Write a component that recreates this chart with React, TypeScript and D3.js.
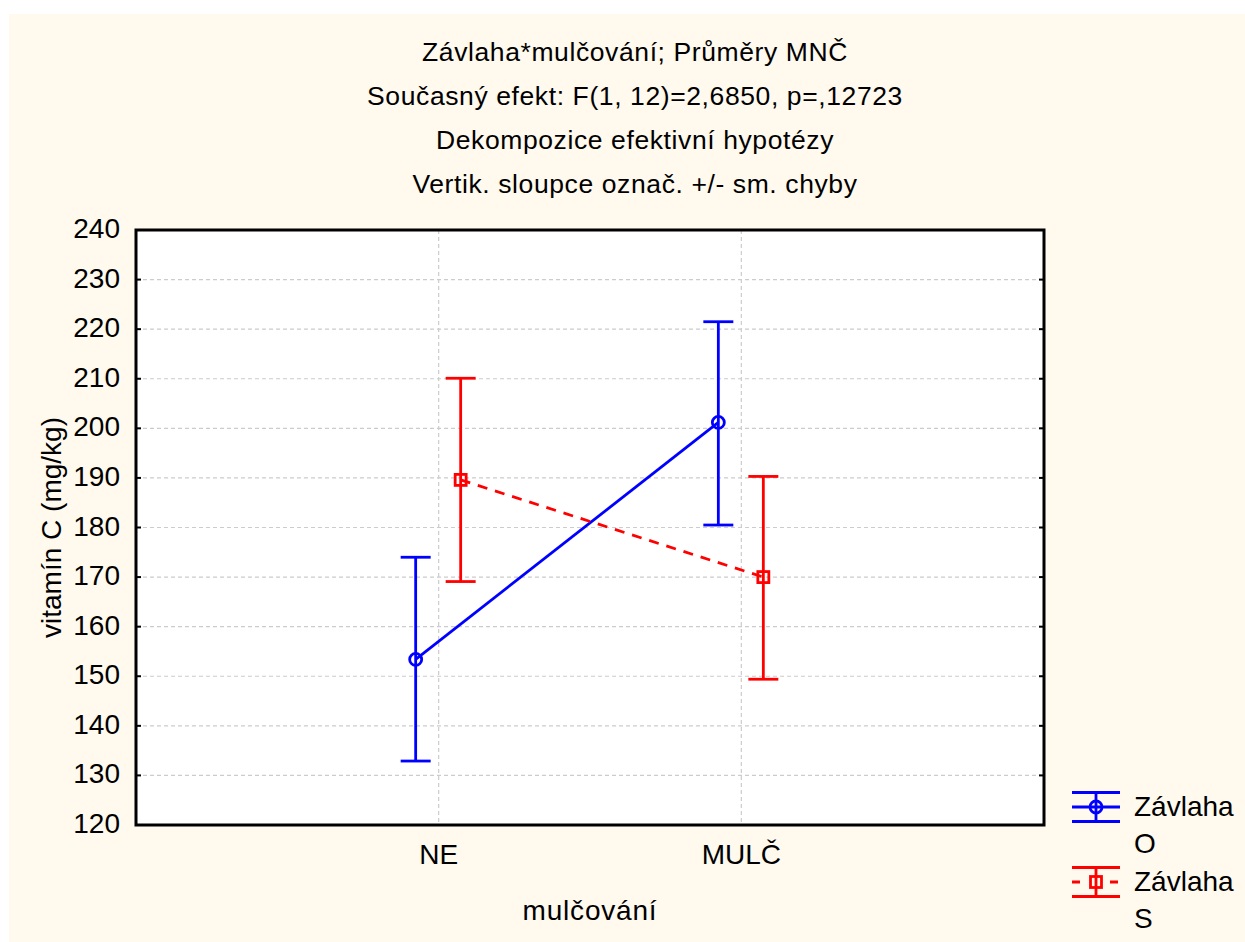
import React from "react";
import * as d3 from "d3";

const categories = ["NE", "MULČ"];
const yTicks = [120, 130, 140, 150, 160, 170, 180, 190, 200, 210, 220, 230, 240];
const titleLines = [
  "Závlaha*mulčování; Průměry MNČ",
  "Současný efekt: F(1, 12)=2,6850, p=,12723",
  "Dekompozice efektivní hypotézy",
  "Vertik. sloupce označ. +/- sm. chyby",
];
const seriesNames = ["Závlaha O", "Závlaha S"];
const meansO = [153.4, 201.2];
const lowO = [132.9, 180.5];
const highO = [174.0, 221.5];
const meansS = [189.6, 170.0];
const lowS = [169.1, 149.4];
const highS = [210.1, 190.3];

const W = 1245, H = 942;
const L = 136, R = 1044, T = 230, B = 825;
const FONT = "'Liberation Sans', Arial, sans-serif";

export default function App() {
  const x = d3.scalePoint<string>().domain(categories).range([L, R]).padding(1);
  const y = d3.scaleLinear().domain([120, 240]).range([B, T]);
  const series = [
    { name: seriesNames[0], color: "#0000FF", means: meansO, lo: lowO, hi: highO, off: -23, dash: undefined as string | undefined, marker: "circle" },
    { name: seriesNames[1], color: "#FF0000", means: meansS, lo: lowS, hi: highS, off: 22, dash: "10,8", marker: "square" },
  ];
  const line = d3.line<[number, number]>().x((d) => d[0]).y((d) => d[1]);
  const capW = 15;
  const sw = 2.8;
  const marker = (kind: string, cx: number, cy: number, color: string) =>
    kind === "circle" ? (
      <circle cx={cx} cy={cy} r={6} fill="none" stroke={color} strokeWidth={sw} />
    ) : (
      <rect x={cx - 5.5} y={cy - 5.5} width={11} height={11} fill="none" stroke={color} strokeWidth={sw} />
    );
  return (
    <svg width={W} height={H} style={{ position: "absolute", left: 0, top: 0 }} fontFamily={FONT}>
      <rect x={0} y={0} width={W} height={H} fill="#ffffff" />
      <rect x={9} y={14} width={W - 9} height={H - 14} fill="#FFF9EE" />
      {titleLines.map((t, i) => (
        <text key={i} x={635} y={61 + i * 44} textAnchor="middle" fontSize={26.5} letterSpacing={0.6} fill="#000">
          {t}
        </text>
      ))}
      <rect x={L} y={T} width={R - L} height={B - T} fill="#ffffff" />
      {yTicks.slice(1, -1).map((t) => (
        <line key={t} x1={L} x2={R} y1={y(t)} y2={y(t)} stroke="#cccccc" strokeWidth={1.2} strokeDasharray="4,3" />
      ))}
      {categories.map((c) => (
        <line key={c} x1={x(c)} x2={x(c)} y1={T} y2={B} stroke="#cccccc" strokeWidth={1.2} strokeDasharray="4,3" />
      ))}
      {yTicks.map((t) => (
        <g key={t}>
          <line x1={L} x2={L + 5} y1={y(t)} y2={y(t)} stroke="#000" strokeWidth={2} />
          <line x1={R - 5} x2={R} y1={y(t)} y2={y(t)} stroke="#000" strokeWidth={2} />
          <text x={120} y={y(t) + 8} textAnchor="end" fontSize={28} fill="#000">
            {t}
          </text>
        </g>
      ))}
      {categories.map((c) => (
        <text key={c} x={x(c)} y={864} textAnchor="middle" fontSize={28} fill="#000">
          {c}
        </text>
      ))}
      <text x={590} y={920} textAnchor="middle" fontSize={28} fill="#000" letterSpacing={0.8}>
        mulčování
      </text>
      <text transform={`translate(61,${(T + B) / 2}) rotate(-90)`} textAnchor="middle" fontSize={28} fill="#000">
        vitamín C (mg/kg)
      </text>
      {series.map((s) => {
        const pts: [number, number][] = categories.map((c, i) => [(x(c) as number) + s.off, y(s.means[i])]);
        return (
          <g key={s.name}>
            {categories.map((c, i) => {
              const cx = (x(c) as number) + s.off;
              return (
                <g key={c}>
                  <line x1={cx} x2={cx} y1={y(s.lo[i])} y2={y(s.hi[i])} stroke={s.color} strokeWidth={sw} />
                  <line x1={cx - capW} x2={cx + capW} y1={y(s.lo[i])} y2={y(s.lo[i])} stroke={s.color} strokeWidth={sw} />
                  <line x1={cx - capW} x2={cx + capW} y1={y(s.hi[i])} y2={y(s.hi[i])} stroke={s.color} strokeWidth={sw} />
                </g>
              );
            })}
            <path d={line(pts) || ""} fill="none" stroke={s.color} strokeWidth={sw} strokeDasharray={s.dash} />
            {pts.map((p, i) => (
              <g key={i}>{marker(s.marker, p[0], p[1], s.color)}</g>
            ))}
          </g>
        );
      })}
      <rect x={L} y={T} width={R - L} height={B - T} fill="none" stroke="#000" strokeWidth={3} />
      {series.map((s, i) => {
        const cy = 807 + i * 75;
        const cx = 1096;
        return (
          <g key={s.name}>
            <line x1={1072} x2={1120} y1={cy - 14.5} y2={cy - 14.5} stroke={s.color} strokeWidth={sw} />
            <line x1={1072} x2={1120} y1={cy + 14.5} y2={cy + 14.5} stroke={s.color} strokeWidth={sw} />
            <line x1={cx} x2={cx} y1={cy - 14.5} y2={cy + 14.5} stroke={s.color} strokeWidth={sw} />
            <line x1={1072} x2={1120} y1={cy} y2={cy} stroke={s.color} strokeWidth={sw} strokeDasharray={s.dash ? "8,30" : undefined} />
            {marker(s.marker, cx, cy, s.color)}
            <text x={1134} y={cy + 9} fontSize={28} fill="#000">
              {s.name.split(" ")[0]}
            </text>
            <text x={1134} y={cy + 46} fontSize={28} fill="#000">
              {s.name.split(" ")[1]}
            </text>
          </g>
        );
      })}
    </svg>
  );
}
